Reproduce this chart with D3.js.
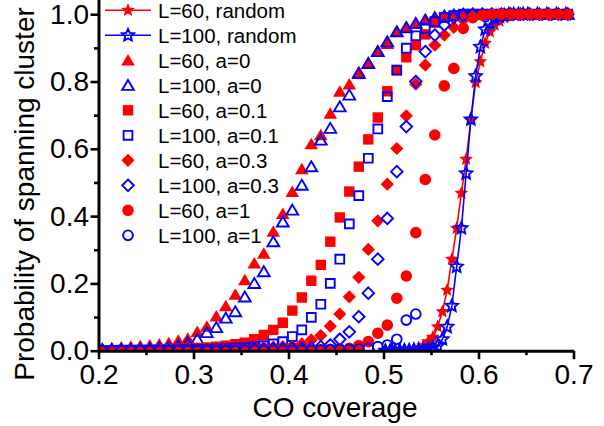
<!DOCTYPE html>
<html>
<head>
<meta charset="utf-8">
<script src="https://cdn.jsdelivr.net/npm/d3@7"></script>
<style>
    html, body { margin: 0; padding: 0; background: #fff; }
    svg { display: block; }
    text { font-family: "Liberation Sans", Arial, sans-serif; fill: #000; }
</style>
</head>
<body>
<div id="chart"></div>
<script>
// CO coverage values for the lattice runs (a = 0 ... 1)
const coverage = [
    0.204, 0.214, 0.224, 0.234, 0.244, 0.254, 0.264, 0.274, 0.284, 0.294,
    0.304, 0.314, 0.324, 0.334, 0.344, 0.354, 0.364, 0.374, 0.384, 0.394,
    0.404, 0.414, 0.424, 0.434, 0.444, 0.454, 0.464, 0.474, 0.484, 0.494,
    0.504, 0.514, 0.524, 0.534, 0.544, 0.554, 0.564, 0.574, 0.584, 0.594,
    0.604, 0.614, 0.624, 0.634, 0.644, 0.654, 0.664, 0.674, 0.684, 0.694
];

const p60a0 = [
    0.006, 0.008, 0.010, 0.012, 0.014, 0.016, 0.019, 0.023, 0.030, 0.036,
    0.056, 0.072, 0.102, 0.133, 0.167, 0.210, 0.260, 0.289, 0.354, 0.407,
    0.472, 0.540, 0.614, 0.641, 0.705, 0.770, 0.792, 0.829, 0.856, 0.891,
    0.912, 0.948, 0.963, 0.973, 0.983, 0.990, 0.995, 0.997, 0.999, 1.000,
    1.000, 1.000, 1.000, 1.000, 1.000, 1.000, 1.000, 1.000, 1.000, 1.000
];
const p100a0 = [
    0.004, 0.004, 0.005, 0.005, 0.006, 0.007, 0.009, 0.011, 0.015, 0.022,
    0.034, 0.054, 0.069, 0.097, 0.116, 0.160, 0.200, 0.235, 0.324, 0.383,
    0.418, 0.492, 0.547, 0.626, 0.661, 0.725, 0.760, 0.824, 0.854, 0.889,
    0.918, 0.948, 0.960, 0.973, 0.983, 0.990, 0.995, 0.998, 1.000, 1.000,
    1.000, 1.000, 1.000, 1.000, 1.000, 1.000, 1.000, 1.000, 1.000, 1.000
];
const p60a01 = [
    0.001, 0.001, 0.002, 0.002, 0.003, 0.003, 0.004, 0.005, 0.006, 0.007,
    0.008, 0.010, 0.012, 0.015, 0.019, 0.024, 0.034, 0.047, 0.062, 0.083,
    0.119, 0.158, 0.208, 0.255, 0.324, 0.396, 0.473, 0.547, 0.628, 0.693,
    0.771, 0.834, 0.872, 0.908, 0.940, 0.975, 0.990, 0.995, 0.998, 1.000,
    1.000, 1.000, 1.000, 1.000, 1.000, 1.000, 1.000, 1.000, 1.000, 1.000
];
const p100a01 = [
    0.000, 0.000, 0.001, 0.001, 0.001, 0.001, 0.002, 0.002, 0.003, 0.003,
    0.004, 0.004, 0.005, 0.006, 0.008, 0.010, 0.012, 0.015, 0.020, 0.027,
    0.042, 0.062, 0.099, 0.138, 0.200, 0.272, 0.377, 0.461, 0.572, 0.659,
    0.755, 0.834, 0.899, 0.936, 0.958, 0.978, 0.990, 0.996, 1.000, 1.000,
    1.000, 1.000, 1.000, 1.000, 1.000, 1.000, 1.000, 1.000, 1.000, 1.000
];
const p60a03 = [
    0.001, 0.001, 0.001, 0.001, 0.002, 0.002, 0.002, 0.003, 0.003, 0.004,
    0.004, 0.005, 0.005, 0.006, 0.007, 0.008, 0.009, 0.010, 0.011, 0.012,
    0.014, 0.020, 0.032, 0.045, 0.073, 0.109, 0.160, 0.218, 0.301, 0.386,
    0.495, 0.601, 0.698, 0.792, 0.849, 0.908, 0.938, 0.961, 0.983, 0.993,
    1.000, 1.000, 1.000, 1.000, 1.000, 1.000, 1.000, 1.000, 1.000, 1.000
];
const p100a03 = [
    0.000, 0.000, 0.000, 0.000, 0.001, 0.001, 0.001, 0.001, 0.001, 0.002,
    0.002, 0.002, 0.003, 0.003, 0.004, 0.004, 0.005, 0.005, 0.006, 0.006,
    0.007, 0.007, 0.008, 0.012, 0.017, 0.034, 0.056, 0.101, 0.171, 0.272,
    0.393, 0.532, 0.666, 0.800, 0.889, 0.938, 0.968, 0.990, 0.996, 1.000,
    1.000, 1.000, 1.000, 1.000, 1.000, 1.000, 1.000, 1.000, 1.000, 1.000
];
const p60a1 = [
    0.000, 0.000, 0.000, 0.000, 0.000, 0.000, 0.000, 0.000, 0.001, 0.001,
    0.001, 0.001, 0.001, 0.001, 0.001, 0.001, 0.001, 0.001, 0.002, 0.002,
    0.002, 0.002, 0.003, 0.003, 0.004, 0.005, 0.007, 0.015, 0.027, 0.052,
    0.076, 0.156, 0.222, 0.351, 0.509, 0.641, 0.787, 0.839, 0.958, 0.990,
    0.997, 1.000, 1.000, 1.000, 1.000, 1.000, 1.000, 1.000, 1.000, 1.000
];
// L=100, a=1 only goes up to 0.534
const p100a1 = [
    0.000, 0.000, 0.000, 0.000, 0.000, 0.000, 0.000, 0.000, 0.000, 0.000,
    0.000, 0.000, 0.000, 0.000, 0.000, 0.001, 0.001, 0.001, 0.001, 0.001,
    0.001, 0.001, 0.001, 0.002, 0.003, 0.004, 0.004, 0.005, 0.007, 0.012,
    0.017, 0.034, 0.091, 0.109
];

// random adsorption runs, finer coverage steps
const randomCoverage = [
    0.502, 0.507, 0.512, 0.517, 0.522, 0.527, 0.532, 0.537, 0.542, 0.547,
    0.552, 0.557, 0.562, 0.567, 0.572, 0.577, 0.582, 0.587, 0.592, 0.597,
    0.602, 0.607, 0.612, 0.617, 0.622, 0.627, 0.632, 0.637, 0.642, 0.647,
    0.652, 0.662, 0.672, 0.682, 0.692
];
const p60random = [
    0.000, 0.001, 0.001, 0.002, 0.003, 0.004, 0.006, 0.009, 0.015, 0.027,
    0.040, 0.071, 0.116, 0.180, 0.272, 0.364, 0.468, 0.569, 0.687, 0.797,
    0.859, 0.914, 0.948, 0.968, 0.980, 0.990, 0.995, 0.998, 1.000, 1.000,
    1.000, 1.000, 1.000, 1.000, 1.000
];
const p100random = [
    0.000, 0.000, 0.000, 0.001, 0.001, 0.001, 0.002, 0.002, 0.003, 0.006,
    0.010, 0.014, 0.034, 0.071, 0.133, 0.250, 0.364, 0.527, 0.687, 0.816,
    0.903, 0.955, 0.973, 0.985, 0.993, 0.997, 1.000, 1.000, 1.000, 1.000,
    1.000, 1.000, 1.000, 1.000, 1.000
];

const xTicks = [0.2, 0.3, 0.4, 0.5, 0.6, 0.7];
const xMinorTicks = [0.25, 0.35, 0.45, 0.55, 0.65];
const yTicks = [0.0, 0.2, 0.4, 0.6, 0.8, 1.0];
const yMinorTicks = [0.1, 0.3, 0.5, 0.7, 0.9];
const legendLabels = [
    "L=60, random", "L=100, random",
    "L=60, a=0", "L=100, a=0",
    "L=60, a=0.1", "L=100, a=0.1",
    "L=60, a=0.3", "L=100, a=0.3",
    "L=60, a=1", "L=100, a=1"
];

const width = 604;
const height = 426;
const red = "#ff0000";
const blue = "#0000ff";

// Scales
const x = d3.scaleLinear().domain([0.2, 0.7]).range([98.5, 573.5]);
const y = d3.scaleLinear().domain([0, 1.05]).range([350.7, -2.6]);

// Marker shapes (filled ones a bit bigger, open ones get a stroke)
function starPath(R, ratio) {
    const pts = d3.range(10).map(i => {
        const ang = -Math.PI / 2 + i * Math.PI / 5;
        const r = i % 2 ? R * ratio : R;
        return [r * Math.cos(ang), r * Math.sin(ang)];
    });
    return "M" + pts.map(p => p.join(",")).join("L") + "Z";
}
const shapes = {
    star: open => open ? starPath(6.4, 0.47) : starPath(7.2, 0.45),
    triangle: open => open ? "M0,-5.4L5.9,4.6L-5.9,4.6Z" : "M0,-6.3L6.8,5.2L-6.8,5.2Z",
    square: open => open ? "M-4.4,-4.4H4.4V4.4H-4.4Z" : "M-5.2,-5.2H5.2V5.2H-5.2Z",
    diamond: open => open ? "M0,-5.8L5.8,0L0,5.8L-5.8,0Z" : "M0,-6.6L6.6,0L0,6.6L-6.6,0Z",
    circle: open => open ? d3.arc()({innerRadius: 0, outerRadius: 4.9, startAngle: 0, endAngle: 2 * Math.PI})
                          : d3.arc()({innerRadius: 0, outerRadius: 5.8, startAngle: 0, endAngle: 2 * Math.PI})
};

const series = [
    {xs: randomCoverage, ys: p60random, shape: "star", color: red, open: false, line: true},
    {xs: randomCoverage, ys: p100random, shape: "star", color: blue, open: true, line: true},
    {xs: coverage, ys: p60a0, shape: "triangle", color: red, open: false},
    {xs: coverage, ys: p100a0, shape: "triangle", color: blue, open: true},
    {xs: coverage, ys: p60a01, shape: "square", color: red, open: false},
    {xs: coverage, ys: p100a01, shape: "square", color: blue, open: true},
    {xs: coverage, ys: p60a03, shape: "diamond", color: red, open: false},
    {xs: coverage, ys: p100a03, shape: "diamond", color: blue, open: true},
    {xs: coverage, ys: p60a1, shape: "circle", color: red, open: false},
    {xs: coverage, ys: p100a1, shape: "circle", color: blue, open: true}
];
series.forEach((s, i) => s.label = legendLabels[i]);

function styleMarker(sel, s) {
    sel.attr("d", shapes[s.shape](s.open))
        .attr("fill", s.open ? "none" : s.color)
        .attr("stroke", s.open ? s.color : "none")
        .attr("stroke-width", s.open ? 1.9 : 0)
        .attr("stroke-linejoin", "miter");
}

const svg = d3.select("#chart").append("svg")
    .attr("width", width)
    .attr("height", height)
    .attr("viewBox", [0, 0, width, height]);

// Clip the data to the axis frame
svg.append("defs").append("clipPath")
    .attr("id", "frame")
    .append("rect")
    .attr("x", x(0.2))
    .attr("y", -20)
    .attr("width", x(0.7) - x(0.2) + 20)
    .attr("height", y(0) + 20);

const plot = svg.append("g").attr("clip-path", "url(#frame)");

series.forEach(s => {
    const pts = s.ys.map((v, i) => [s.xs[i], v]);
    const g = plot.append("g");
    if (s.line) {
        g.append("path")
            .datum(pts)
            .attr("fill", "none")
            .attr("stroke", s.color)
            .attr("stroke-width", 1.6)
            .attr("d", d3.line().x(d => x(d[0])).y(d => y(d[1])));
    }
    g.selectAll("path.mk")
        .data(pts)
        .join("path")
        .attr("class", "mk")
        .attr("transform", d => `translate(${x(d[0])},${y(d[1])})`)
        .call(styleMarker, s);
});

// Axes: thick black frame on left and bottom only
const fmt = d3.format(".1f");
const xAxis = svg.append("g")
    .attr("transform", `translate(0,${y(0)})`)
    .call(d3.axisBottom(x).tickValues(xTicks).tickFormat(fmt).tickSize(8.5).tickSizeOuter(0).tickPadding(5));
svg.append("g")
    .attr("transform", `translate(0,${y(0)})`)
    .call(d3.axisBottom(x).tickValues(xMinorTicks).tickFormat("").tickSize(4.5).tickSizeOuter(0))
    .select(".domain").remove();

const yAxis = svg.append("g")
    .attr("transform", `translate(${x(0.2)},0)`)
    .call(d3.axisLeft(y).tickValues(yTicks).tickFormat(fmt).tickSize(8).tickSizeOuter(0).tickPadding(1.5));
svg.append("g")
    .attr("transform", `translate(${x(0.2)},0)`)
    .call(d3.axisLeft(y).tickValues(yMinorTicks).tickFormat("").tickSize(4.5).tickSizeOuter(0))
    .select(".domain").remove();

svg.selectAll(".domain").attr("stroke", "#000").attr("stroke-width", 3);
svg.selectAll(".tick line").attr("stroke", "#000").attr("stroke-width", 2.6);
svg.selectAll(".tick text")
    .attr("font-family", '"Liberation Sans", Arial, sans-serif')
    .attr("font-size", 28)
    .attr("fill", "#000");

// Axis titles
svg.append("text")
    .attr("x", 335)
    .attr("y", 417)
    .attr("text-anchor", "middle")
    .attr("font-size", 28)
    .text("CO coverage");

svg.append("text")
    .attr("transform", "translate(34,194) rotate(-90)")
    .attr("text-anchor", "middle")
    .attr("font-size", 28)
    .text("Probability of spanning cluster");

// Legend
const legend = svg.append("g").attr("transform", "translate(128,10.3)");
series.forEach((s, i) => {
    const item = legend.append("g").attr("transform", `translate(0,${i * 25})`);
    if (s.line) {
        item.append("line")
            .attr("x1", -23).attr("x2", 23)
            .attr("stroke", s.color)
            .attr("stroke-width", 1.6);
    }
    item.append("path").call(styleMarker, s);
    item.append("text")
        .attr("x", 30)
        .attr("dy", "0.36em")
        .attr("font-size", 20.5)
        .text(s.label);
});
</script>
</body>
</html>
